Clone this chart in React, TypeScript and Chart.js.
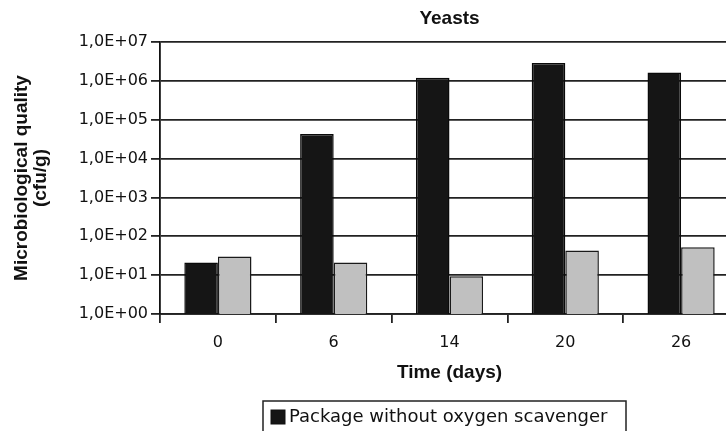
import { useEffect, useRef } from 'react';
import { Chart, registerables } from 'chart.js';

Chart.register(...registerables);

const DAYS = ['0', '6', '14', '20', '26'];
const WITHOUT_SCAVENGER = [21, 43000, 1200000, 2900000, 1650000];
const WITH_SCAVENGER = [30, 21, 9.3, 43, 52];
const SERIES_LABELS = ['Package without oxygen scavenger', 'Package with oxygen scavenger'];
const Y_TICKS = [1, 10, 100, 1000, 10000, 100000, 1000000, 10000000];
const Y_TICK_LABELS = ['1,0E+00', '1,0E+01', '1,0E+02', '1,0E+03', '1,0E+04', '1,0E+05', '1,0E+06', '1,0E+07'];
const TITLE = 'Yeasts';
const X_TITLE = 'Time (days)';
const Y_TITLE = ['Microbiological quality', '(cfu/g)'];

const BOLD = '"Liberation Sans", Arial, sans-serif';
const REG = '"DejaVu Sans", sans-serif';

const extrasPlugin = {
  id: 'extras',
  afterDraw(chart: any) {
    const { ctx, chartArea } = chart;
    ctx.save();
    // title
    ctx.font = `bold 19px ${BOLD}`;
    ctx.fillStyle = '#111';
    ctx.textAlign = 'center';
    ctx.textBaseline = 'middle';
    ctx.fillText(TITLE, (chartArea.left + chartArea.right) / 2, 19);

    // legend box
    const boxLeft = 263;
    const boxTop = 401;
    const boxWidth = 363;
    const lineH = 24;
    const sets = chart.data.datasets;
    const boxHeight = sets.length * lineH + 8;
    ctx.fillStyle = '#fff';
    ctx.fillRect(boxLeft, boxTop, boxWidth, boxHeight);
    ctx.strokeStyle = '#222';
    ctx.lineWidth = 1.5;
    ctx.strokeRect(boxLeft, boxTop, boxWidth, boxHeight);
    ctx.font = `18px ${REG}`;
    ctx.textAlign = 'left';
    ctx.textBaseline = 'middle';
    sets.forEach((ds: any, i: number) => {
      const cy = boxTop + 16 + i * lineH;
      ctx.fillStyle = ds.backgroundColor;
      ctx.fillRect(boxLeft + 8, cy - 7, 14, 14);
      ctx.strokeStyle = '#111';
      ctx.lineWidth = 1;
      ctx.strokeRect(boxLeft + 8, cy - 7, 14, 14);
      ctx.fillStyle = '#111';
      ctx.fillText(ds.label, boxLeft + 26, cy);
    });
    ctx.restore();
  },
};

export default function App() {
  const ref = useRef<HTMLCanvasElement | null>(null);

  useEffect(() => {
    if (!ref.current) return;
    const chart = new Chart(ref.current, {
      type: 'bar',
      data: {
        labels: DAYS,
        datasets: [
          {
            label: SERIES_LABELS[0],
            data: WITHOUT_SCAVENGER,
            backgroundColor: '#151515',
            borderColor: '#0a0a0a',
            borderWidth: 1.5,
            categoryPercentage: 0.58,
            barPercentage: 1.0,
          },
          {
            label: SERIES_LABELS[1],
            data: WITH_SCAVENGER,
            backgroundColor: '#c0c0c0',
            borderColor: '#1a1a1a',
            borderWidth: 1.5,
            categoryPercentage: 0.58,
            barPercentage: 1.0,
          },
        ],
      },
      options: {
        responsive: false,
        animation: false,
        layout: { padding: { top: 42, bottom: 39, left: 0, right: 21 } },
        plugins: {
          legend: { display: false },
          tooltip: { enabled: false },
          title: { display: false },
        },
        scales: {
          x: {
            type: 'category',
            offset: true,
            grid: {
              offset: true,
              drawOnChartArea: false,
              drawTicks: true,
              tickLength: 9,
              color: '#222',
              lineWidth: 1.8,
            },
            border: { display: true, color: '#222', width: 1.8 },
            ticks: {
              color: '#111',
              font: { family: REG, size: 16 },
              padding: 10,
              maxRotation: 0,
              autoSkip: false,
            },
            title: {
              display: true,
              text: X_TITLE,
              color: '#111',
              font: { family: BOLD, size: 19, weight: 'bold' },
              padding: { top: 0, bottom: 8 },
            },
            afterFit(s: any) {
              s.height = 78;
            },
          },
          y: {
            type: 'logarithmic',
            min: 1,
            max: 10000000,
            afterBuildTicks(s: any) {
              s.ticks = Y_TICKS.map((v) => ({ value: v }));
            },
            grid: {
              color: '#222',
              lineWidth: 1.8,
              drawTicks: true,
              tickLength: 9,
            },
            border: { display: true, color: '#111', width: 1.8 },
            ticks: {
              color: '#111',
              font: { family: REG, size: 16 },
              padding: 3,
              autoSkip: false,
              callback: (_v: any, i: number) => Y_TICK_LABELS[i],
            },
            title: {
              display: true,
              text: Y_TITLE,
              color: '#111',
              font: { family: BOLD, size: 19, weight: 'bold', lineHeight: 1.0 },
              padding: { top: 12.5, bottom: 0 },
            },
            afterFit(s: any) {
              s.width = 160;
            },
          },
        },
      },
      plugins: [extrasPlugin],
    } as any);
    return () => chart.destroy();
  }, []);

  return (
    <div
      style={{
        position: 'fixed',
        left: 0,
        top: 0,
        width: 726,
        height: 431,
        overflow: 'hidden',
        background: '#fff',
      }}
    >
      <canvas ref={ref} width={760} height={431} style={{ display: 'block' }} />
    </div>
  );
}
